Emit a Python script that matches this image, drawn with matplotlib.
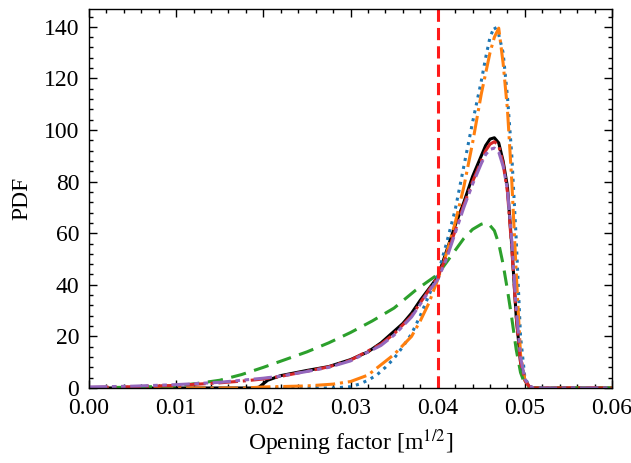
import numpy as np
import matplotlib
matplotlib.use("Agg")
import matplotlib.pyplot as plt

plt.rcParams["font.family"] = ["Liberation Serif", "DejaVu Serif"]
plt.rcParams["mathtext.fontset"] = "stix"
plt.rcParams["font.size"] = 17

# black solid
x_k = [0.0, 0.019, 0.0195, 0.0205, 0.022, 0.0235, 0.025, 0.0275, 0.030, 0.032, 0.0335,
       0.035, 0.036, 0.037, 0.038, 0.039, 0.040, 0.041, 0.042, 0.043, 0.044, 0.045,
       0.0455, 0.046, 0.0465, 0.047, 0.0475, 0.048, 0.0485, 0.049, 0.0495, 0.050,
       0.0505, 0.051, 0.060]
y_k = [0, 0, 0.3, 3.0, 4.8, 5.8, 6.8, 8.3, 11, 14, 17.5,
       22, 25, 29, 34, 38.5, 43, 53, 63, 72, 82, 90,
       94, 96.5, 97, 95, 88, 78, 55, 28, 10, 3,
       0.6, 0, 0]

# blue dotted
x_b = [0.0, 0.028, 0.030, 0.031, 0.032, 0.033, 0.034, 0.035, 0.036, 0.037, 0.038,
       0.039, 0.040, 0.041, 0.042, 0.043, 0.044, 0.045, 0.0455, 0.046, 0.0465,
       0.047, 0.0475, 0.048, 0.0485, 0.049, 0.0495, 0.050, 0.0505, 0.051, 0.060]
y_b = [0, 0, 0.5, 1.5, 3, 5, 8, 11.5, 16, 21, 28,
       36, 44, 56, 69, 86, 103, 119, 128, 136, 140,
       137, 130, 113, 90, 58, 20, 4, 0.8, 0, 0]

# orange dash-dot
x_o = [0.0, 0.018, 0.020, 0.025, 0.028, 0.030, 0.032, 0.0335, 0.035, 0.036, 0.037,
       0.038, 0.039, 0.040, 0.041, 0.042, 0.043, 0.044, 0.045, 0.046, 0.0465,
       0.047, 0.0475, 0.048, 0.0485, 0.049, 0.0495, 0.050, 0.0505, 0.051, 0.060]
y_o = [0, 0, 0.4, 0.8, 1.5, 2.5, 5, 9, 13, 16.5, 20,
       26, 33, 42, 52, 64, 78, 95, 114, 130, 136,
       139.5, 126, 108, 80, 45, 13, 3, 0.5, 0, 0]

# green dashed
x_g = [0.0, 0.005, 0.010, 0.0125, 0.015, 0.0175, 0.020, 0.0225, 0.025, 0.0275, 0.030,
       0.0325, 0.035, 0.0375, 0.040, 0.0415, 0.043, 0.044, 0.045, 0.0455, 0.046,
       0.0465, 0.047, 0.0475, 0.048, 0.0485, 0.049, 0.0495, 0.050, 0.0505, 0.051, 0.060]
y_g = [0.1, 0.3, 0.8, 1.8, 3, 5.2, 8, 11, 14, 17.5, 21.5,
       26, 31, 38, 44, 51, 58, 61.5, 63.5, 64, 63,
       61, 56, 48, 38, 27, 15, 6, 1.5, 0.3, 0, 0]

# red dash-dot
x_r = [0.0, 0.005, 0.010, 0.015, 0.018, 0.020, 0.022, 0.025, 0.0275, 0.030, 0.0335,
       0.035, 0.037, 0.038, 0.039, 0.040, 0.041, 0.042, 0.043, 0.044, 0.045,
       0.0455, 0.046, 0.0465, 0.047, 0.0475, 0.048, 0.0485, 0.049, 0.0495, 0.050,
       0.0505, 0.051, 0.060]
y_r = [0.2, 0.5, 1.0, 2.0, 2.8, 3.5, 4.5, 6.5, 8.2, 10.8, 17,
       21, 28, 33, 38, 43, 51, 61, 71, 80, 88,
       92, 94.5, 95.5, 94, 87, 76, 54, 28, 10, 3,
       0.6, 0, 0]

# purple dash-dot-dot
x_p = [0.0, 0.005, 0.010, 0.015, 0.020, 0.022, 0.025, 0.0275, 0.030, 0.0335, 0.035,
       0.037, 0.038, 0.039, 0.040, 0.041, 0.042, 0.043, 0.044, 0.045, 0.0455,
       0.046, 0.0465, 0.047, 0.0475, 0.048, 0.0485, 0.049, 0.0495, 0.050, 0.0505,
       0.051, 0.060]
y_p = [0.4, 0.7, 1.3, 2.2, 3.8, 4.6, 6.4, 8.0, 10.5, 16.5, 20.5,
       27.5, 32.5, 37.5, 42, 50, 60, 70, 79, 87, 90.5,
       92.5, 93, 91.5, 86, 77, 57, 31, 12, 3.5, 0.8,
       0, 0]

threshold = 0.04

fig = plt.figure(figsize=(6.31, 4.63), dpi=100)
ax = fig.add_axes([0.141, 0.162, 0.829, 0.819])

lw = 2.2
ax.plot(x_k, y_k, color="black", lw=lw, ls="-")
ax.plot(x_b, y_b, color="#1f77b4", lw=lw, ls=":")
ax.plot(x_o, y_o, color="#ff7f0e", lw=lw, ls="-.")
ax.plot(x_g, y_g, color="#2ca02c", lw=lw, ls=(0, (5, 2.8)))
ax.plot(x_r, y_r, color="#d62728", lw=lw, ls="-.")
ax.plot(x_p, y_p, color="#9467bd", lw=lw, ls=(0, (6, 1.5, 1.5, 1.5, 1.5, 1.5)))
ax.axvline(threshold, color="#ff1a1a", lw=lw, ls=(0, (4, 2)))

ax.set_xlim(0, 0.06)
ax.set_ylim(0, 147)
ax.set_xticks(np.arange(0, 0.0601, 0.01))
ax.set_yticks(np.arange(0, 141, 20))
ax.xaxis.set_minor_locator(matplotlib.ticker.MultipleLocator(0.002))
ax.yaxis.set_minor_locator(matplotlib.ticker.MultipleLocator(4))
ax.xaxis.set_major_formatter(matplotlib.ticker.FormatStrFormatter("%.2f"))
ax.tick_params(which="both", direction="in", top=True, right=True, width=1)
ax.tick_params(which="major", length=6, pad=7)
ax.tick_params(which="minor", length=3)
for s in ax.spines.values():
    s.set_linewidth(1)

ax.set_xlabel(r"Opening factor [m$^{1/2}$]", labelpad=6)
ax.set_ylabel("PDF", labelpad=8)

fig.savefig("out.png", dpi=100)
